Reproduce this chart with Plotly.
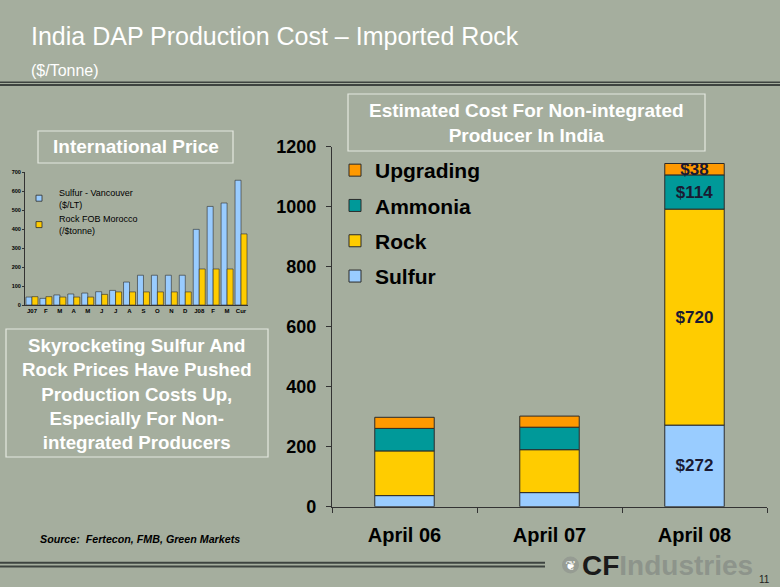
import plotly.graph_objects as go
import numpy as np

W, H = 780, 587
BG = "#A5AE9E"
FONT = "Liberation Sans, Arial, sans-serif"

# ---- main chart data ($/tonne) ----
periods = ["April 06", "April 07", "April 08"]
sulfur = [37, 47, 272]
rock = [149, 143, 720]
ammonia = [75, 75, 114]
upgrading = [37, 37, 38]
labelled_period = "April 08"
main_ticks = [0, 200, 400, 600, 800, 1000, 1200]

# ---- inset data: international prices ----
months = ["J07", "F", "M", "A", "M", "J", "J", "A", "S", "O", "N", "D", "J08", "F", "M", "Cur"]
sulfur_price = [42, 35, 53, 58, 63, 70, 77, 121, 157, 157, 157, 157, 399, 520, 538, 658]
rock_price = [44, 44, 42, 42, 42, 56, 69, 69, 69, 69, 69, 69, 190, 190, 190, 375]
inset_ticks = [0, 100, 200, 300, 400, 500, 600, 700]


def px(x):
    return x / W


def py(y):
    return 1 - y / H


fig = go.Figure()

series = [
    ("Sulfur", sulfur, "#99CCFF", 4),
    ("Rock", rock, "#FFCC00", 3),
    ("Ammonia", ammonia, "#009999", 2),
    ("Upgrading", upgrading, "#FF9900", 1),
]
base = np.zeros(len(periods))
for name, vals, col, rank in series:
    vals = np.array(vals, dtype=float)
    text = [f"${int(v)}" if p == labelled_period else "" for p, v in zip(periods, vals)]
    fig.add_trace(go.Bar(
        x=periods, y=vals, base=base.copy(), name=name,
        marker=dict(color=col, line=dict(color="#2b2b2b", width=1)),
        width=0.41, offset=-0.205,
        text=text, textposition="inside", insidetextanchor="middle", textangle=0,
        constraintext="none",
        textfont=dict(family=FONT, size=17, color="#1a1a33", weight="bold"),
        legendgroup=name, legendrank=rank, legend="legend", xaxis="x", yaxis="y",
        hoverinfo="skip",
    ))
    base = base + vals

idx = list(range(len(months)))
fig.add_trace(go.Bar(
    x=idx, y=sulfur_price, name="Sulfur - Vancouver<br>($/LT)",
    marker=dict(color="#99CCFF", line=dict(color="#2b2b2b", width=0.6)),
    width=0.43, offset=-0.43, xaxis="x2", yaxis="y2", showlegend=False, hoverinfo="skip",
))
fig.add_trace(go.Bar(
    x=idx, y=rock_price, name="Rock FOB Morocco<br>(/$tonne)",
    marker=dict(color="#FFCC00", line=dict(color="#2b2b2b", width=0.6)),
    width=0.43, offset=0.0, xaxis="x2", yaxis="y2", showlegend=False, hoverinfo="skip",
))
for name, col in [("Sulfur - Vancouver<br>($/LT)", "#99CCFF"), ("Rock FOB Morocco<br>(/$tonne)", "#FFCC00")]:
    fig.add_trace(go.Scatter(
        x=[None], y=[None], mode="markers", name=name,
        marker=dict(symbol="square", size=6, color=col, line=dict(color="#2b2b2b", width=0.8)),
        xaxis="x2", yaxis="y2", legend="legend2", legendgroup=name, hoverinfo="skip",
    ))

axis_line = "#333333"
fig.update_layout(
    width=W, height=H, autosize=False,
    margin=dict(l=0, r=0, t=0, b=0, pad=0, autoexpand=False),
    paper_bgcolor=BG, plot_bgcolor="rgba(0,0,0,0)",
    barmode="overlay",
    font=dict(family=FONT, color="black"),
    xaxis=dict(
        domain=[px(332), px(767)], type="category", automargin=False,
        showline=True, linecolor=axis_line, linewidth=1.3,
        ticks="outside", tickson="boundaries", ticklen=5, tickcolor=axis_line,
        ticklabelstandoff=10,
        tickfont=dict(family=FONT, size=20, color="black", weight="bold"),
        showgrid=False, zeroline=False, anchor="y", fixedrange=True,
    ),
    yaxis=dict(
        domain=[py(506.7), py(146.7)], range=[0, 1200], automargin=False,
        tickvals=main_ticks,
        showline=True, linecolor=axis_line, linewidth=1.3,
        ticks="outside", ticklen=5, tickcolor=axis_line,
        ticklabelstandoff=6,
        tickfont=dict(family=FONT, size=18, color="black", weight="bold"),
        showgrid=False, zeroline=False, anchor="x", fixedrange=True,
    ),
    xaxis2=dict(
        domain=[px(25), px(248)], range=[-0.5, len(months) - 0.5], automargin=False,
        tickvals=idx, ticktext=months,
        showline=True, linecolor=axis_line, linewidth=1,
        ticks="", tickfont=dict(family=FONT, size=6, color="black", weight="bold"),
        showgrid=False, zeroline=False, anchor="y2", fixedrange=True,
    ),
    yaxis2=dict(
        domain=[py(305), py(172.3)], range=[0, 700], automargin=False,
        tickvals=inset_ticks,
        showline=True, linecolor=axis_line, linewidth=1,
        ticks="outside", ticklen=2, tickcolor=axis_line,
        tickfont=dict(family=FONT, size=5.5, color="black", weight="bold"),
        showgrid=False, zeroline=False, anchor="x2", fixedrange=True,
    ),
    legend=dict(
        x=px(335), y=py(150), xanchor="left", yanchor="top",
        traceorder="grouped", tracegroupgap=5,
        bgcolor="rgba(0,0,0,0)", borderwidth=0,
        font=dict(family=FONT, size=21, color="black", weight="bold"),
        itemclick=False, itemdoubleclick=False,
    ),
    legend2=dict(
        x=px(19), y=py(180), xanchor="left", yanchor="top",
        traceorder="normal", tracegroupgap=0, itemwidth=30,
        bgcolor="rgba(0,0,0,0)", borderwidth=0,
        font=dict(family=FONT, size=9, color="black"),
        itemclick=False, itemdoubleclick=False,
    ),
)

rule = "#3e4440"
shapes = []
shapes.append(dict(type="line", xref="paper", yref="paper", x0=0, x1=1, y0=py(82.2), y1=py(82.2),
                   line=dict(color=rule, width=1.6)))
shapes.append(dict(type="line", xref="paper", yref="paper", x0=0, x1=1, y0=py(85), y1=py(85),
                   line=dict(color=rule, width=2)))
shapes.append(dict(type="line", xref="paper", yref="paper", x0=0, x1=px(545), y0=py(562.8), y1=py(562.8),
                   line=dict(color=rule, width=2)))
shapes.append(dict(type="line", xref="paper", yref="paper", x0=0, x1=px(545), y0=py(566.5), y1=py(566.5),
                   line=dict(color=rule, width=2)))
for (x0, y0, x1, y1) in [(348, 94, 705, 151), (38, 131, 233, 163), (6, 329, 268, 457)]:
    shapes.append(dict(type="rect", xref="paper", yref="paper", x0=px(x0), x1=px(x1), y0=py(y0), y1=py(y1),
                       line=dict(color="#E4E8E0", width=1.2), fillcolor="rgba(0,0,0,0)"))
# logo badge
shapes.append(dict(type="circle", xref="paper", yref="paper", x0=px(562), x1=px(579), y0=py(573.5), y1=py(556.5),
                   line=dict(width=0), fillcolor="#969c93"))
fig.update_layout(shapes=shapes)

ann = []
ann.append(dict(text="India DAP Production Cost – Imported Rock", x=px(29), y=py(36.5), xanchor="left", yanchor="middle",
                font=dict(family=FONT, size=25, color="white")))
ann.append(dict(text="($/Tonne)", x=px(29), y=py(70.5), xanchor="left", yanchor="middle",
                font=dict(family=FONT, size=16, color="white")))
ann.append(dict(text="Estimated Cost For Non-integrated<br>Producer In India", x=px(526.5), y=py(122.5),
                xanchor="center", yanchor="middle", align="center",
                font=dict(family=FONT, size=19, color="white", weight="bold")))
ann.append(dict(text="International Price", x=px(135.5), y=py(147), xanchor="center", yanchor="middle",
                font=dict(family=FONT, size=19, color="white", weight="bold")))
ann.append(dict(text="Skyrocketing Sulfur And<br>Rock Prices Have Pushed<br>Production Costs Up,<br>Especially For Non-<br>integrated Producers",
                x=px(137), y=py(394), xanchor="center", yanchor="middle", align="center",
                font=dict(family=FONT, size=18.7, color="white", weight="bold")))
ann.append(dict(text="<i>Source:  Fertecon, FMB, Green Markets</i>", x=px(38), y=py(539), xanchor="left", yanchor="middle",
                font=dict(family=FONT, size=10.7, color="black", weight="bold")))
ann.append(dict(text="<span style='color:#1a1a1a'>CF</span><span style='color:#8d948b'>Industries</span>",
                x=px(580), y=py(565), xanchor="left", yanchor="middle",
                font=dict(family=FONT, size=28, color="#1a1a1a", weight="bold")))
ann.append(dict(text="❦", x=px(570.5), y=py(565), xanchor="center", yanchor="middle",
                font=dict(family="DejaVu Sans", size=13, color="white")))
ann.append(dict(text="11", x=px(772), y=py(579), xanchor="right", yanchor="middle",
                font=dict(family=FONT, size=10, color="#222222")))
for a in ann:
    a.update(xref="paper", yref="paper", showarrow=False)
fig.update_layout(annotations=ann)

fig.write_html(
    "out.html",
    config={"displayModeBar": False},
    post_script="document.body.style.margin='0';document.body.style.padding='0';"
                "document.documentElement.style.overflow='hidden';",
)
